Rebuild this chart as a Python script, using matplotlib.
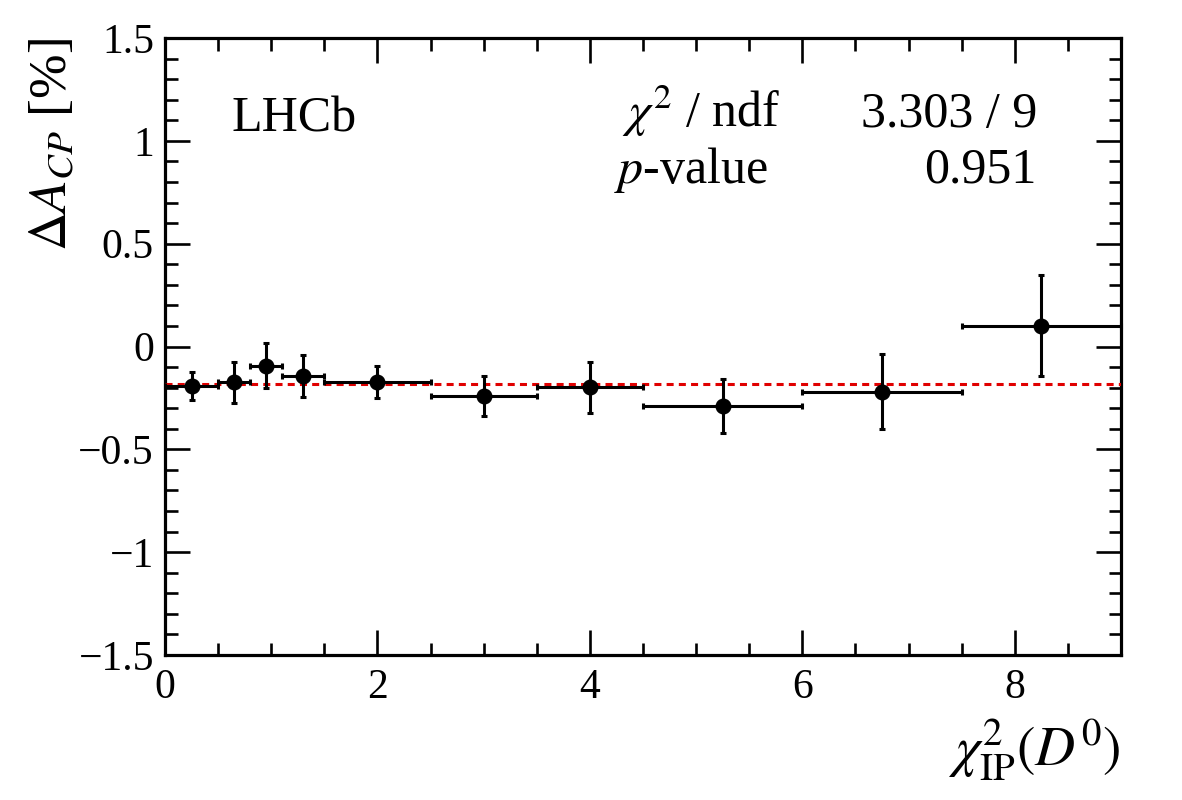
import matplotlib
matplotlib.use("Agg")
import matplotlib.pyplot as plt
from matplotlib.ticker import MultipleLocator, FuncFormatter

# Data
bin_lo = [0.0, 0.5, 0.8, 1.1, 1.5, 2.5, 3.5, 4.5, 6.0, 7.5]
bin_hi = [0.5, 0.8, 1.1, 1.5, 2.5, 3.5, 4.5, 6.0, 7.5, 9.0]
x_center = [0.25, 0.65, 0.95, 1.30, 2.0, 3.0, 4.0, 5.25, 6.75, 8.25]
delta_acp = [-0.191, -0.174, -0.093, -0.143, -0.174, -0.241, -0.198, -0.289, -0.220, 0.101]
delta_acp_err = [0.069, 0.099, 0.109, 0.103, 0.077, 0.098, 0.123, 0.132, 0.182, 0.246]
fit_value = -0.184
chi2_text = "3.303 / 9"
pvalue_text = "0.951"

plt.rcParams['font.family'] = ['Liberation Serif', 'DejaVu Serif']
plt.rcParams['mathtext.fontset'] = 'stix'

fig = plt.figure(figsize=(11.82, 8.0), dpi=100)
ax = fig.add_axes([165/1182, 145/800, 956/1182, 617/800])

xerr_lo = [c - l for c, l in zip(x_center, bin_lo)]
xerr_hi = [h - c for c, h in zip(x_center, bin_hi)]

ax.axhline(fit_value, color='#e00000', lw=2.2, ls=(0, (2.3, 1.7)), zorder=3)
ax.errorbar(x_center, delta_acp, xerr=[xerr_lo, xerr_hi], yerr=delta_acp_err,
            fmt='o', color='black', ms=10.5, elinewidth=2.2, capsize=2.3,
            capthick=2.2, zorder=4, clip_on=False)

ax.set_xlim(0, 9)
ax.set_ylim(-1.5, 1.5)
ax.xaxis.set_major_locator(MultipleLocator(2))
ax.xaxis.set_minor_locator(MultipleLocator(0.5))
ax.yaxis.set_major_locator(MultipleLocator(0.5))
ax.yaxis.set_minor_locator(MultipleLocator(0.1))

def fmt(v, pos):
    s = ('%g' % v)
    if abs(v) < 1e-9:
        s = '0'
    return s.replace('-', '\u2212')

ax.xaxis.set_major_formatter(FuncFormatter(fmt))
ax.yaxis.set_major_formatter(FuncFormatter(fmt))

for s in ax.spines.values():
    s.set_linewidth(2.3)
ax.tick_params(which='both', direction='in', top=True, right=True, width=1.9,
               labelsize=30)
ax.tick_params(which='major', length=18)
ax.tick_params(which='minor', length=9)
ax.tick_params(axis='x', which='major', pad=10)
ax.tick_params(axis='y', which='major', pad=8)

ax.set_ylabel(r'$\Delta A_{CP}$ [%]', fontsize=38.5, loc='top')
ax.yaxis.set_label_coords(-0.092, 1.0)
ax.set_xlabel(r'$\chi^2_{\mathrm{IP}}(D^0)$', fontsize=40, loc='right')
ax.xaxis.set_label_coords(1.0, -0.100)

ax.text(0.070, 0.849, 'LHCb', transform=ax.transAxes, fontsize=36,
        va='baseline', ha='left')
ax.text(0.478, 0.856, r'$\chi^2$ / ndf', transform=ax.transAxes, fontsize=36,
        va='baseline', ha='left')
ax.text(0.912, 0.856, chi2_text, transform=ax.transAxes, fontsize=36,
        va='baseline', ha='right')
ax.text(0.470, 0.765, r'$p$-value', transform=ax.transAxes, fontsize=36,
        va='baseline', ha='left')
ax.text(0.912, 0.765, pvalue_text, transform=ax.transAxes, fontsize=36,
        va='baseline', ha='right')

fig.savefig('out.png', dpi=100)
